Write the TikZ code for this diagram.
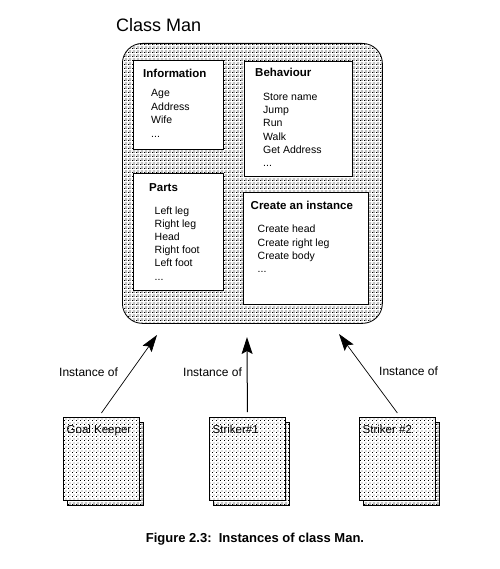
\documentclass[tikz,border=0pt]{standalone}
\usepackage{fontspec}
\setmainfont{Liberation Sans}
\usetikzlibrary{arrows.meta,patterns}
\pgfdeclarepatternformonly{densedots}{\pgfpointorigin}{\pgfpoint{4pt}{4pt}}{\pgfpoint{4pt}{4pt}}{%
  \pgfpathrectangle{\pgfpoint{0pt}{0pt}}{\pgfpoint{1pt}{1pt}}%
  \pgfpathrectangle{\pgfpoint{2pt}{0pt}}{\pgfpoint{1pt}{1pt}}%
  \pgfpathrectangle{\pgfpoint{1pt}{2pt}}{\pgfpoint{1pt}{1pt}}%
  \pgfpathrectangle{\pgfpoint{3pt}{2pt}}{\pgfpoint{1pt}{1pt}}%
  \pgfusepath{fill}}
\pgfdeclarepatternformonly{sparsedots}{\pgfpointorigin}{\pgfpoint{4pt}{4pt}}{\pgfpoint{4pt}{4pt}}{%
  \pgfpathrectangle{\pgfpoint{0pt}{0pt}}{\pgfpoint{1pt}{1pt}}%
  \pgfpathrectangle{\pgfpoint{2pt}{2pt}}{\pgfpoint{1pt}{1pt}}%
  \pgfusepath{fill}}
\def\mydots{...}
\begin{document}
\begin{tikzpicture}[x=1pt,y=-1pt,
  box/.style={draw=black, line width=0.8pt, fill=white, anchor=north west, inner sep=0pt},
  sheet/.style={draw=black, line width=0.8pt, anchor=north west, inner sep=0pt, minimum width=76pt, minimum height=83pt},
  item/.style={anchor=base west, inner sep=0pt, font=\fontsize{10.5}{12}\selectfont},
  ttl/.style={anchor=base west, inner sep=0pt, font=\bfseries\fontsize{11.5}{13}\selectfont},
  lbl/.style={anchor=base west, inner sep=0pt, font=\fontsize{12}{14}\selectfont},
  slbl/.style={anchor=base west, inner sep=0pt, font=\fontsize{11.5}{13}\selectfont},
  arr/.style={-{Stealth[length=17pt,width=11pt,inset=3pt]}, line width=0.7pt}]
\useasboundingbox (0,0) rectangle (499,569);

% title
\node[anchor=base west, inner sep=0pt, font=\fontsize{18}{20}\selectfont] (classtitle) at (116,32) {Class Man};

% class box
\node[draw=black, line width=0.8pt, rounded corners=20pt, pattern=densedots, anchor=north west,
      inner sep=0pt, minimum width=260pt, minimum height=280pt] (classbox) at (122,43) {};

% inner boxes
\node[box, minimum width=90pt, minimum height=89pt] (info) at (133,60) {};
\node[box, minimum width=108pt, minimum height=115pt] (beh) at (244,61) {};
\node[box, minimum width=90pt, minimum height=117pt] (parts) at (133,173) {};
\node[box, minimum width=125pt, minimum height=112pt] (create) at (243,192) {};

\node[ttl] (infot) at (143,78) {Information};
\foreach \t [count=\i] in {Age,Address,Wife,\mydots}
  \node[item] (infoi\i) at (151,{96.7+13.5*(\i-1)}) {\t};

\node[ttl] (beht) at (255,77) {Behaviour};
\foreach \t [count=\i] in {Store name,Jump,Run,Walk,Get Address,\mydots}
  \node[item] (behi\i) at (263,{100.3+13.3*(\i-1)}) {\t};

\node[ttl] (partst) at (149,191.7) {Parts};
\foreach \t [count=\i] in {Left leg,Right leg,Head,Right foot,Left foot,\mydots}
  \node[item] (partsi\i) at (154.5,{214+13.2*(\i-1)}) {\t};

\node[ttl] (createt) at (250.5,209) {Create an instance};
\foreach \t [count=\i] in {Create head,Create right leg,Create body,\mydots}
  \node[item] (createi\i) at (257.5,{232.7+13.4*(\i-1)}) {\t};

% instance sheets
\node[sheet, pattern=densedots] (gks) at (67,422) {};
\node[sheet, preaction={fill=white}, pattern=sparsedots] (gk) at (63,417) {};
\node[sheet, pattern=densedots] (s1s) at (213,422) {};
\node[sheet, preaction={fill=white}, pattern=sparsedots] (s1) at (209,417) {};
\node[sheet, pattern=densedots] (s2s) at (363,422) {};
\node[sheet, preaction={fill=white}, pattern=sparsedots] (s2) at (359,417) {};

\node[slbl] (gkl) at (66.5,433) {Goal Keeper};
\node[slbl] (s1l) at (212.5,433) {Striker\#1};
\node[slbl] (s2l) at (362.5,433) {Striker \#2};

% arrows
\coordinate (t1) at (157,335);
\coordinate (t2) at (247,337);
\coordinate (t3) at (339,334);
\draw[arr] ([yshift=4pt]gk.north) -- (t1);
\draw[arr, line width=1pt] ([yshift=5pt]s1.north) -- (t2);
\draw[arr] ([yshift=4pt]s2.north) -- (t3);

\node[lbl] (l1) at (59,376.5) {Instance of};
\node[lbl] (l2) at (183,376.5) {Instance of};
\node[lbl] (l3) at (379,375.5) {Instance of};

% caption
\node[anchor=base, inner sep=0pt, font=\bfseries\fontsize{13}{15}\selectfont] (caption) at (255,542) {Figure 2.3:\ \ Instances of class Man.};
\end{tikzpicture}
\end{document}
